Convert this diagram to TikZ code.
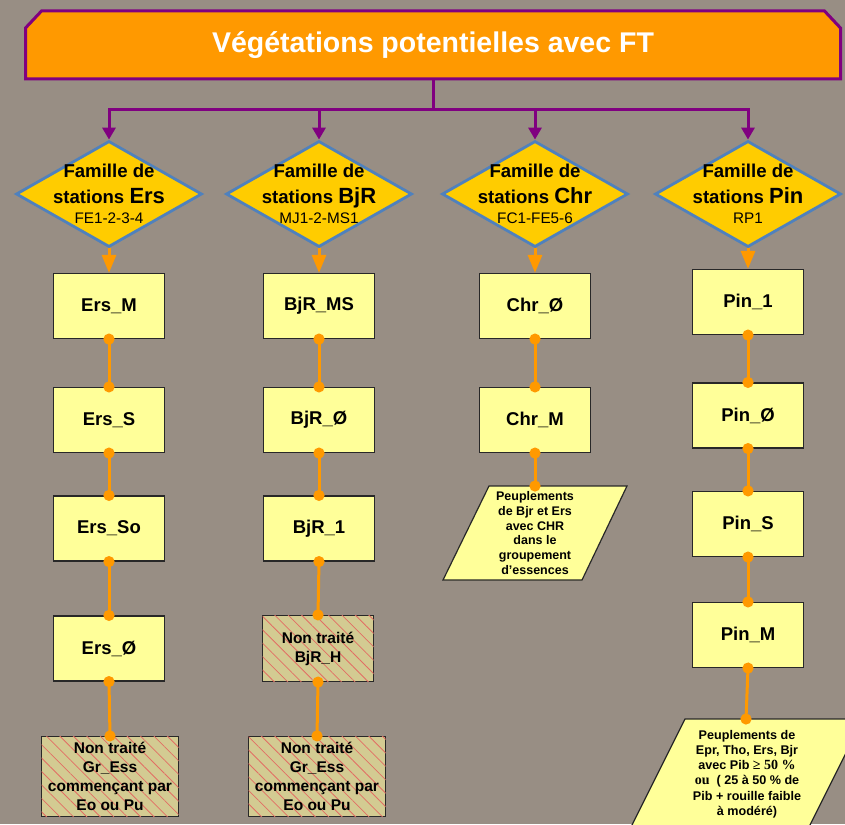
\documentclass[tikz,border=0pt]{standalone}
\usepackage{fontspec}
\setmainfont{Liberation Sans}
\newfontfamily\timesbf{Liberation Serif}
\usetikzlibrary{shapes.geometric,arrows.meta,calc,patterns.meta}

\definecolor{bgc}{RGB}{152,142,132}
\definecolor{titleorange}{RGB}{255,153,0}
\definecolor{framepurple}{RGB}{128,0,128}
\definecolor{famyellow}{RGB}{255,204,0}
\definecolor{famblue}{RGB}{79,129,189}
\definecolor{boxyellow}{RGB}{255,255,153}
\definecolor{linkorange}{RGB}{255,153,0}
\definecolor{khaki}{RGB}{211,203,146}
\definecolor{hatchred}{RGB}{226,110,100}
\definecolor{boxline}{RGB}{40,40,40}

\tikzset{
  titlebox/.style={rectangle, minimum width=815pt, minimum height=68pt, inner sep=0pt, outer sep=0pt},
  titleframe/.style={draw=framepurple, line width=3pt, fill=titleorange, line join=miter},
  titletext/.style={text=white, font=\fontsize{28.5}{30}\bfseries\selectfont, inner sep=0pt},
  tree/.style={draw=framepurple, line width=3pt},
  drop/.style={tree, -{Triangle[length=12pt,width=13pt]}},
  famille/.style={diamond, draw=famblue, line width=2.8pt, fill=famyellow,
    minimum width=186pt, minimum height=106pt, inner sep=0pt},
  famtext/.style={align=center, font=\fontsize{18.6}{26}\bfseries\selectfont, inner sep=0pt},
  unit/.style={rectangle, draw=boxline, line width=1.2pt, fill=boxyellow,
    minimum width=111pt, minimum height=65pt, inner sep=0pt,
    font=\fontsize{18.5}{22}\bfseries\selectfont},
  untreated/.style={rectangle, draw=boxline, line width=1.2pt, fill=khaki,
    postaction={pattern={Lines[angle=-45,distance=9.5pt,line width=0.8pt]}, pattern color=hatchred},
    align=center, inner sep=0pt, font=\fontsize{15.5}{19}\bfseries\selectfont},
  paraframe/.style={draw=boxline, line width=1.2pt, fill=boxyellow},
  paratext/.style={align=center, inner sep=0pt},
  feed/.style={draw=linkorange, line width=3pt, -{Triangle[length=18pt,width=14pt]}},
  link/.style={draw=linkorange, line width=3pt, {Circle[length=11pt]}-{Circle[length=11pt]},
    shorten <=-5.5pt, shorten >=-5.5pt},
}

\begin{document}
\begin{tikzpicture}[x=1pt,y=-1pt]
\useasboundingbox (0,0) rectangle (845,824);
\clip (0,0) rectangle (845,824);
\fill[bgc] (0,0) rectangle (845,824);

% --- heading box with cut top corners
\node[titlebox] (title) at (433,45) {};
\filldraw[titleframe] (title.south west) -- ($(title.north west)+(0,17)$)
  -- ($(title.north west)+(16,0)$) -- ($(title.north east)+(-16,0)$)
  -- ($(title.north east)+(0,17)$) -- (title.south east) -- cycle;
\node[titletext] (titletext) at (title.center) {Végétations potentielles avec FT};

% --- the four station families
\node[famille, label={[famtext]center:{Famille de\\stations {\fontsize{22}{26}\selectfont Ers}\\[-6pt]{\fontsize{15.3}{18}\mdseries\selectfont FE1-2-3-4}}}] (d1) at (109,194) {};
\node[famille, label={[famtext]center:{Famille de\\stations {\fontsize{22}{26}\selectfont BjR}\\[-6pt]{\fontsize{15.3}{18}\mdseries\selectfont MJ1-2-MS1}}}] (d2) at (319,194) {};
\node[famille, label={[famtext]center:{Famille de\\stations {\fontsize{22}{26}\selectfont Chr}\\[-6pt]{\fontsize{15.3}{18}\mdseries\selectfont FC1-FE5-6}}}] (d3) at (535,194) {};
\node[famille, label={[famtext]center:{Famille de\\stations {\fontsize{22}{26}\selectfont Pin}\\[-6pt]{\fontsize{15.3}{18}\mdseries\selectfont RP1}}}] (d4) at (748,194) {};

% --- purple distribution lines
\coordinate (hub) at ($(title.south)+(0,31)$);
\draw[tree] (title.south) -- (hub);
\draw[tree, line cap=rect] (d1.north |- hub) -- (d4.north |- hub);
\foreach \d in {d1,d2,d3,d4}
  \draw[drop] (\d.north |- hub) -- (\d.north);

% --- column Ers
\node[unit] (b11) at (109,306) {Ers\_M};
\node[unit] (b12) at (109,420) {Ers\_S};
\node[unit] (b13) at (109,528.5) {Ers\_So};
\node[unit] (b14) at (109,648.5) {Ers\_Ø};
\node[untreated, minimum width=137pt, minimum height=80pt] (b15) at (110,776.5)
  {Non traité\\Gr\_Ess\\commençant par\\Eo ou Pu};

% --- column BjR
\node[unit] (b21) at (319,306) {BjR\_MS};
\node[unit] (b22) at (319,420) {BjR\_Ø};
\node[unit] (b23) at (319,528.5) {BjR\_1};
\node[untreated, minimum width=111pt, minimum height=66pt] (b24) at (318,648.5)
  {Non traité\\BjR\_H};
\node[untreated, minimum width=137pt, minimum height=80pt] (b25) at (317,776.5)
  {Non traité\\Gr\_Ess\\commençant par\\Eo ou Pu};

% --- column Chr
\node[unit] (b31) at (535,306) {Chr\_Ø};
\node[unit] (b32) at (535,420) {Chr\_M};
\filldraw[paraframe] (489,486) -- (627,486) -- (582,580) -- (443,580) -- cycle;
\node[paratext, font=\fontsize{12.5}{14.7}\bfseries\selectfont] (p3) at (535,533)
  {Peuplements\\de Bjr et Ers\\avec CHR\\dans le\\groupement\\d’essences};
\coordinate (p3top) at (535,486);

% --- column Pin
\node[unit] (b41) at (748,302) {Pin\_1};
\node[unit] (b42) at (748,415.5) {Pin\_Ø};
\node[unit] (b43) at (748,524) {Pin\_S};
\node[unit] (b44) at (748,635) {Pin\_M};
\filldraw[paraframe] (685,719) -- (863,719) -- (808,829) -- (630,829) -- cycle;
\node[paratext, font=\fontsize{12.6}{15.2}\bfseries\selectfont] (p4) at (747,774)
  {Peuplements de\\Epr, Tho, Ers, Bjr\\ avec Pib {\timesbf\fontsize{14}{15.2}\selectfont ≥ 50 \%}\\{\timesbf\fontsize{14}{15.2}\selectfont ou}\ \ ( 25 à 50 \% de\\Pib + rouille faible\\à modéré)};
\coordinate (p4top) at (746,719);

% --- family to first unit
\draw[feed] (d1.south) -- (b11.north);
\draw[feed] (d2.south) -- (b21.north);
\draw[feed] (d3.south) -- (b31.north);
\draw[feed] (d4.south) -- (b41.north);

% --- unit chains
\draw[link] (b11.south) -- (b12.north);
\draw[link] (b12.south) -- (b13.north);
\draw[link] (b13.south) -- (b14.north);
\draw[link] (b14.south) -- (b15.north);
\draw[link] (b21.south) -- (b22.north);
\draw[link] (b22.south) -- (b23.north);
\draw[link] (b23.south) -- (b24.north);
\draw[link] (b24.south) -- (b25.north);
\draw[link] (b31.south) -- (b32.north);
\draw[link] (b32.south) -- (p3top);
\draw[link] (b41.south) -- (b42.north);
\draw[link] (b42.south) -- (b43.north);
\draw[link] (b43.south) -- (b44.north);
\draw[link] (b44.south) -- (p4top);
\end{tikzpicture}
\end{document}
